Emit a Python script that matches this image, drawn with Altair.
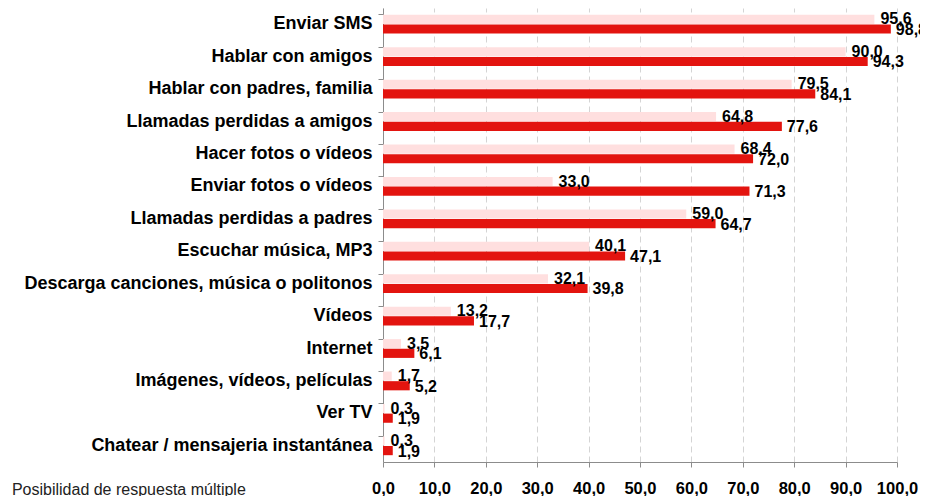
import altair as alt
import pandas as pd

categories = [
    "Enviar SMS",
    "Hablar con amigos",
    "Hablar con padres, familia",
    "Llamadas perdidas a amigos",
    "Hacer fotos o vídeos",
    "Enviar fotos o vídeos",
    "Llamadas perdidas a padres",
    "Escuchar música, MP3",
    "Descarga canciones, música o politonos",
    "Vídeos",
    "Internet",
    "Imágenes, vídeos, películas",
    "Ver TV",
    "Chatear / mensajeria instantánea",
]
serie_1 = [95.6, 90.0, 79.5, 64.8, 68.4, 33.0, 59.0, 40.1, 32.1, 13.2, 3.5, 1.7, 0.3, 0.3]
serie_2 = [98.8, 94.3, 84.1, 77.6, 72.0, 71.3, 64.7, 47.1, 39.8, 17.7, 6.1, 5.2, 1.9, 1.9]
series_names = ["Serie 1", "Serie 2"]
x_ticks = [0, 10, 20, 30, 40, 50, 60, 70, 80, 90, 100]
note = "Posibilidad de respuesta múltiple"

rows = []
for c, a, b in zip(categories, serie_1, serie_2):
    rows.append({"cat": c, "serie": series_names[0], "v": a})
    rows.append({"cat": c, "serie": series_names[1], "v": b})
df = pd.DataFrame(rows)

FONT = "Liberation Sans"

y = alt.Y(
    "cat:N",
    sort=categories,
    scale=alt.Scale(paddingInner=0.42, paddingOuter=0.21),
    axis=alt.Axis(
        title=None,
        labelFont=FONT,
        labelFontSize=18,
        labelFontWeight="bold",
        labelColor="black",
        labelPadding=6,
        labelLimit=420,
        domainColor="#8c8c8c",
        tickColor="#8c8c8c",
        tickSize=5,
        bandPosition=0,
        grid=False,
    ),
)
yoff = alt.YOffset(
    "serie:N", sort=series_names, scale=alt.Scale(paddingInner=0.05, paddingOuter=0)
)
x = alt.X(
    "v:Q",
    scale=alt.Scale(domain=[0, 100], nice=False),
    axis=alt.Axis(
        values=x_ticks,
        title=None,
        labelExpr="replace(format(datum.value, '.1f'), '.', ',')",
        labelOverlap=False,
        labelFlush=False,
        grid=True,
        gridDash=[6, 4],
        gridColor="#d4d4d4",
        domainColor="#8c8c8c",
        tickColor="#8c8c8c",
        tickSize=5,
        labelFont=FONT,
        labelFontSize=16.5,
        labelFontWeight="bold",
        labelColor="black",
        labelPadding=13,
    ),
)
color = alt.Color(
    "serie:N",
    scale=alt.Scale(domain=series_names, range=["#FFDFDF", "#E3140F"]),
    legend=None,
)

base = alt.Chart(df).transform_calculate(
    lbl="replace(format(datum.v, '.1f'), '.', ',')"
)

bars = base.mark_bar().encode(x=x, y=y, yOffset=yoff, color=color)

txt1 = (
    base.transform_filter(alt.datum.serie == series_names[0])
    .mark_text(align="left", baseline="middle", dx=6, dy=0, font=FONT,
               fontSize=16, fontWeight="bold", color="black")
    .encode(x="v:Q", y=alt.Y("cat:N", sort=categories), yOffset=yoff, text="lbl:N")
)
txt2 = (
    base.transform_filter(alt.datum.serie == series_names[1])
    .mark_text(align="left", baseline="middle", dx=5, dy=1, font=FONT,
               fontSize=16, fontWeight="bold", color="black")
    .encode(x="v:Q", y=alt.Y("cat:N", sort=categories), yOffset=yoff, text="lbl:N")
)

chart = (
    alt.layer(bars, txt1, txt2)
    .properties(
        width=514,
        height=454,
        autosize=alt.AutoSizeParams(type="none"),
        padding={"left": 375, "top": 0, "right": 23, "bottom": 34},
        title=alt.TitleParams(
            note,
            orient="bottom",
            anchor="start",
            frame="bounds",
            font=FONT,
            fontSize=16,
            fontWeight="normal",
            color="#222222",
            offset=-15,
            dx=-12,
        ),
    )
    .configure_view(stroke=None)
)

chart.save("out.html", embed_options={"renderer": "svg", "actions": False})
